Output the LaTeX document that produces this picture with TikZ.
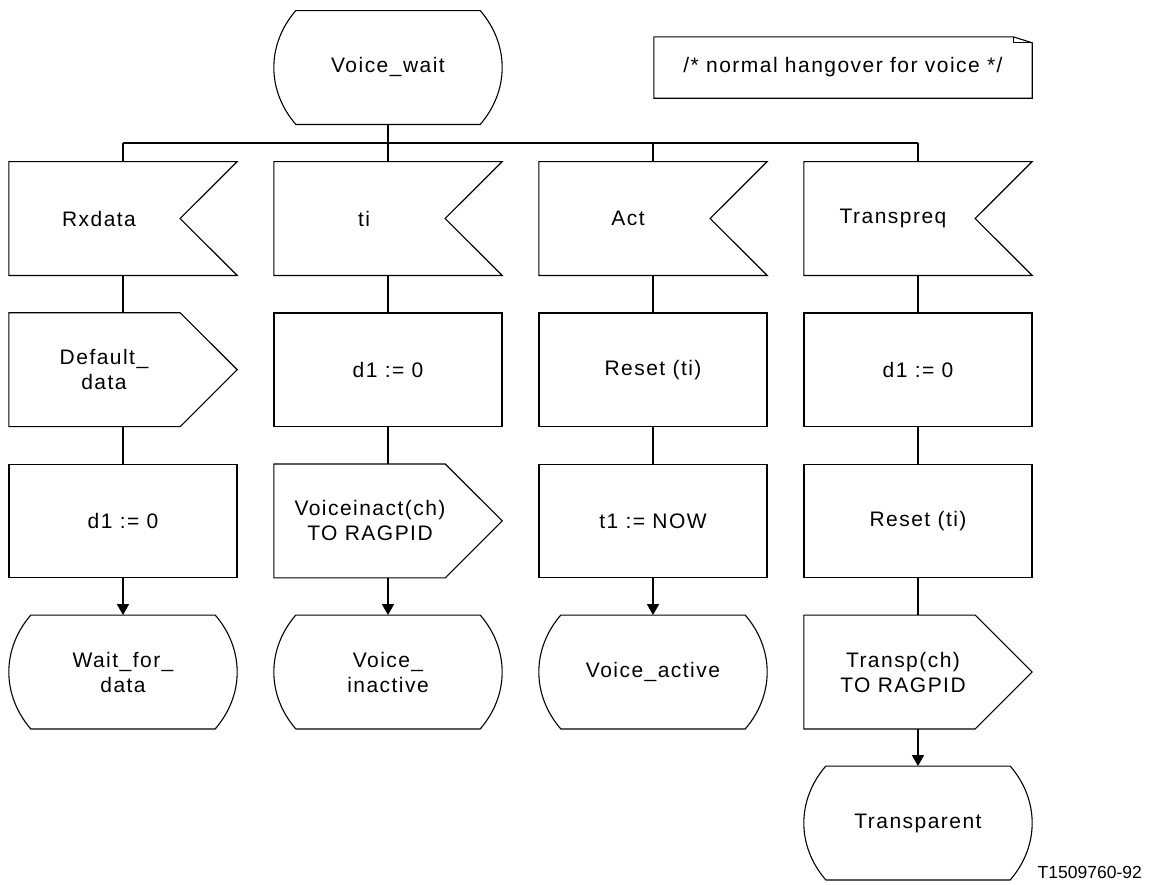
\documentclass[tikz,border=0pt]{standalone}
\usepackage{fontspec}
\setmainfont{Liberation Sans}[LetterSpace=7]
\usetikzlibrary{arrows.meta}
\begin{document}
\begin{tikzpicture}[x=1pt,y=-1pt,
  txt/.style={font=\fontsize{21}{25}\selectfont, align=center, inner sep=0pt},
  blk/.style={txt, minimum width=228pt, minimum height=113.5pt},
  shp/.style={draw=black, line width=1.1pt, line join=miter},
  rectbox/.style={blk, draw=black, line width=1.1pt},
  con/.style={line width=1.4pt},
  arr/.style={con, -{Triangle[length=11pt,width=12pt]}}
]
\useasboundingbox (0,0) rectangle (1149,884);

% nodes
\node[blk] (vw) at (388,67.5) {\raisebox{5pt}{Voice\_wait}};
\node[txt, minimum width=378pt, minimum height=61pt] (note) at (843,67.5) {/* normal hangover for voice */};

\node[blk] (in1) at (123,218.5) {Rxdata\hspace*{48pt}};
\node[blk] (in2) at (388,218.5) {ti\hspace*{48pt}};
\node[blk] (in3) at (653,218.5) {Act\hspace*{50pt}};
\node[blk] (in4) at (918,218.5) {Transpreq\hspace*{50pt}};

\node[blk] (o1) at (123,369.7) {Default\_\hspace*{38pt}\\data\hspace*{38pt}};
\node[rectbox] (t2) at (388,369.7) {d1 := 0};
\node[rectbox] (t3) at (653,369.7) {Reset (ti)};
\node[rectbox] (t4) at (918,369.7) {d1 := 0};

\node[rectbox] (t1b) at (123,520.9) {d1 := 0};
\node[blk] (o2) at (388,520.9) {Voiceinact(ch)\hspace*{36pt}\\TO RAGPID\hspace*{36pt}};
\node[rectbox] (t3b) at (653,520.9) {t1 := NOW};
\node[rectbox] (t4b) at (918,520.9) {Reset (ti)};

\node[blk] (s1) at (123,672) {Wait\_for\_\\data};
\node[blk] (s2) at (388,672) {Voice\_\\inactive};
\node[blk] (s3) at (653,672) {Voice\_active};
\node[blk] (o4) at (918,672) {Transp(ch)\hspace*{30pt}\\TO RAGPID\hspace*{30pt}};

\node[blk] (s4) at (918,823) {Transparent};

\node[font=\fontsize{17.5}{20}\selectfont\addfontfeature{LetterSpace=0}, anchor=base east, inner sep=0pt] (fig) at (1142,878) {T1509760-92};

% outlines
\foreach \n in {in1,in2,in3,in4}
  \draw[shp] (\n.north west) -- (\n.north east) -- ([xshift=-57pt]\n.east) -- (\n.south east) -- (\n.south west) -- cycle;
\foreach \n in {o1,o2,o4}
  \draw[shp] (\n.north west) -- ([xshift=-57pt]\n.north east) -- (\n.east) -- ([xshift=-57pt]\n.south east) -- (\n.south west) -- cycle;
\foreach \n in {vw,s1,s2,s3,s4}
  \draw[shp] ([xshift=22pt]\n.north west) -- ([xshift=-22pt]\n.north east)
    .. controls ([xshift=7.3pt,yshift=-34pt]\n.north east) and ([xshift=7.3pt,yshift=34pt]\n.south east) .. ([xshift=-22pt]\n.south east)
    -- ([xshift=22pt]\n.south west)
    .. controls ([xshift=-7.3pt,yshift=34pt]\n.south west) and ([xshift=-7.3pt,yshift=-34pt]\n.north west) .. ([xshift=22pt]\n.north west) -- cycle;
\draw[shp] (note.south west) -- (note.north west) -- ([xshift=-19pt]note.north east) -- ([yshift=-6pt]note.north east) -- (note.south east) -- cycle;
\draw[shp] ([xshift=-19pt]note.north east) -- ([xshift=-19pt,yshift=-6pt]note.north east) -- ([yshift=-6pt]note.north east);

% connectors
\coordinate (busL) at (123,143);
\coordinate (busR) at (918,143);
\draw[line width=1.1pt] (busL) -- (busR);
\draw[con] (busL) -- (in1.north);
\draw[con] (vw.south) -- (in2.north);
\draw[con] (in3.north |- busL) -- (in3.north);
\draw[con] (busR) -- (in4.north);

\draw[con] (in1.south) -- (o1.north);
\draw[con] (o1.south) -- (t1b.north);
\draw[arr] (t1b.south) -- (s1.north);

\draw[con] (in2.south) -- (t2.north);
\draw[con] (t2.south) -- (o2.north);
\draw[arr] (o2.south) -- (s2.north);

\draw[con] (in3.south) -- (t3.north);
\draw[con] (t3.south) -- (t3b.north);
\draw[arr] (t3b.south) -- (s3.north);

\draw[con] (in4.south) -- (t4.north);
\draw[con] (t4.south) -- (t4b.north);
\draw[con] (t4b.south) -- (o4.north);
\draw[arr] (o4.south) -- (s4.north);
\end{tikzpicture}
\end{document}
